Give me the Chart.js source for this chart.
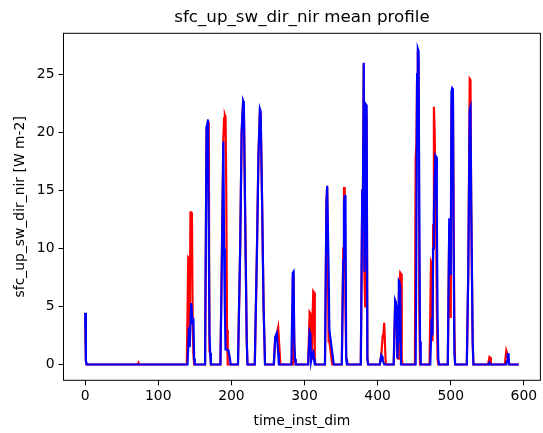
<!DOCTYPE html>
<html>
<head>
<meta charset="utf-8">
<script src="https://cdn.jsdelivr.net/npm/chart.js@4/dist/chart.umd.min.js"></script>
<style>
  body { margin: 0; background: #fff; }
  #wrap { width: 543px; height: 433px; }
</style>
</head>
<body>
<div id="wrap"><canvas id="profileChart" width="543" height="433"></canvas></div>
<script>
// Tick labels
const xTicks = [0, 100, 200, 300, 400, 500, 600];
const yTicks = [0, 5, 10, 15, 20, 25];

// Series values as [time_inst_dim, value]; zero stretches are given by their ends
const redSeries = [
    [0, 4.4], [1, 0.3], [2, 0],
    [72, 0], [73, 0.15], [74, 0],
    [139, 0], [141, 9.2], [142, 9.1], [143, 2.5], [144, 13.1], [145, 13.1], [146, 13.0], [147, 4.0], [148, 1.0], [149, 0],
    [164, 0], [166, 20.3], [167, 20.5], [168, 20.9], [169, 20.8], [170, 1.1], [171, 1.0], [172, 0],
    [185, 0], [187, 10.0], [189, 19.5], [190, 21.2], [191, 21.5], [192, 21.3], [193, 15.0], [194, 3.0], [195, 0],
    [209, 0], [212, 10.0], [214, 20.0], [216, 22.6], [217, 22.4], [219, 12.0], [221, 2.0], [222, 0],
    [232, 0], [235, 10.0], [237, 18.0], [239, 21.8], [240, 21.6], [242, 14.0], [244, 5.0], [246, 0],
    [258, 0], [260, 2.3], [262, 2.6], [264, 3.2], [265, 3.2], [267, 0],
    [283, 0], [284, 7.5], [285, 7.6], [286, 1.5], [287, 0.4], [288, 0],
    [305, 0], [307, 4.5], [308, 4.4], [309, 0.5], [310, 1.0], [311, 4.0], [312, 6.3], [313, 6.2], [314, 0.5], [315, 0],
    [328, 0], [330, 14.0], [331, 15.3], [332, 15.3], [333, 2.0], [334, 2.0], [336, 1.0], [338, 0],
    [351, 0], [353, 10.0], [354, 15.2], [355, 15.2], [356, 5.0], [357, 0.5], [358, 0.4], [359, 0],
    [377, 0], [379, 15.0], [380, 15.3], [381, 25.8], [382, 7.5], [383, 5.0], [384, 22.0], [385, 21.0], [386, 0.5], [387, 0],
    [403, 0], [405, 0.8], [407, 2.5], [408, 2.6], [409, 3.6], [410, 3.6], [411, 0.2], [412, 0],
    [422, 0], [424, 5.3], [425, 5.1], [426, 4.5], [427, 1.0], [428, 0.5], [429, 6.0], [430, 7.0], [431, 7.9], [432, 7.8], [433, 0.5], [434, 0],
    [451, 0], [452, 17.7], [453, 19.0], [454, 25.0], [455, 27.0], [456, 26.0], [457, 5.0], [458, 0],
    [471, 0], [473, 8.8], [474, 8.6], [475, 2.0], [476, 12.0], [477, 22.2], [478, 20.0], [479, 16.0], [480, 12.0], [481, 5.0], [482, 0.5], [483, 0],
    [496, 0], [498, 12.0], [499, 11.5], [500, 4.0], [501, 22.0], [502, 23.5], [503, 23.6], [504, 12.0], [505, 3.0], [506, 0],
    [522, 0], [524, 8.0], [526, 24.6], [527, 24.5], [528, 14.0], [530, 2.0], [531, 0],
    [551, 0], [553, 0.65], [554, 0.6], [555, 0],
    [574, 0], [576, 1.2], [577, 1.0], [579, 0.3], [580, 0],
    [593, 0]
];

const blueSeries = [
    [0, 4.45], [1, 0.3], [2, 0],
    [140, 0], [142, 3.2], [143, 1.5], [145, 5.3], [146, 5.3], [147, 3.5], [148, 4.0], [149, 0.5], [150, 0],
    [164, 0], [166, 20.5], [167, 20.6], [168, 21.1], [169, 21.1], [170, 2.6], [171, 1.0], [172, 0],
    [185, 0], [187, 9.0], [189, 19.2], [190, 10.0], [191, 5.0], [192, 1.3], [193, 1.3], [196, 1.2], [198, 0.5], [199, 0],
    [209, 0], [212, 10.0], [214, 20.0], [216, 22.7], [217, 22.5], [219, 12.0], [221, 2.0], [222, 0],
    [232, 0], [235, 10.0], [237, 18.0], [239, 22.0], [240, 21.8], [242, 14.0], [244, 5.0], [246, 0],
    [258, 0], [260, 2.4], [261, 2.4], [262, 2.7], [264, 1.0], [265, 0],
    [282, 0], [284, 7.9], [285, 8.0], [286, 2.0], [287, 0.5], [288, 0],
    [305, 0], [307, 2.8], [308, 2.6], [309, 0.3], [311, 1.0], [312, 1.1], [313, 0.5], [314, 0],
    [328, 0], [330, 14.0], [331, 15.4], [332, 15.4], [333, 8.0], [334, 3.0], [336, 2.0], [338, 1.0], [340, 0],
    [351, 0], [353, 9.0], [354, 14.0], [355, 14.5], [356, 14.5], [357, 0.5], [358, 0],
    [377, 0], [379, 15.0], [380, 15.4], [381, 26.0], [382, 8.0], [383, 12.0], [384, 22.4], [385, 22.3], [386, 0.5], [387, 0],
    [403, 0], [405, 0.8], [406, 0.7], [407, 0.3], [408, 0.2], [409, 0],
    [422, 0], [424, 5.5], [425, 5.3], [426, 5.0], [427, 0.5], [428, 2.0], [429, 7.2], [430, 7.1], [431, 6.5], [432, 0],
    [452, 0], [453, 10.0], [454, 25.0], [455, 27.2], [456, 27.0], [457, 14.0], [458, 2.0], [459, 0],
    [472, 0], [474, 4.0], [475, 2.5], [476, 10.0], [477, 13.0], [478, 16.0], [479, 18.0], [480, 17.9], [481, 13.0], [482, 4.0], [483, 0.5], [484, 0],
    [496, 0], [498, 12.5], [499, 12.6], [500, 7.7], [501, 23.5], [502, 23.8], [503, 23.7], [504, 10.0], [505, 1.0], [506, 0],
    [522, 0], [524, 8.0], [526, 22.0], [527, 22.2], [528, 14.0], [530, 2.0], [531, 0],
    [552, 0], [553, 0.15], [554, 0],
    [576, 0], [577, 0.3], [578, 0.9], [579, 0.9], [580, 0],
    [593, 0]
];

const titleText = 'sfc_up_sw_dir_nir mean profile';
const xLabel = 'time_inst_dim';
const yLabel = 'sfc_up_sw_dir_nir [W m-2]';

Chart.defaults.font.family = '"DejaVu Sans", sans-serif';
Chart.defaults.color = '#000';

// matplotlib-like frame and title
const framePlugin = {
    id: 'frame',
    afterDraw(chart) {
        const { ctx, chartArea: a } = chart;
        ctx.save();
        ctx.strokeStyle = '#000';
        ctx.lineWidth = 1;
        ctx.strokeRect(a.left, a.top, a.right - a.left, a.bottom - a.top);
        ctx.fillStyle = '#000';
        ctx.font = '16.7px "DejaVu Sans"';
        ctx.textAlign = 'center';
        ctx.textBaseline = 'middle';
        ctx.fillText(titleText, (a.left + a.right) / 2, 18);
        ctx.restore();
    }
};

function toPoints(series) {
    return series.map(p => ({ x: p[0], y: p[1] }));
}

function fixedTicks(values) {
    return scale => { scale.ticks = values.map(v => ({ value: v })); };
}

const ctx = document.getElementById('profileChart').getContext('2d');
new Chart(ctx, {
    type: 'line',
    data: {
        datasets: [
            {
                label: 'red',
                data: toPoints(redSeries),
                borderColor: '#ff0000',
                borderWidth: 2.2,
                pointRadius: 0,
                tension: 0,
                order: 1
            },
            {
                label: 'blue',
                data: toPoints(blueSeries),
                borderColor: '#0000ff',
                borderWidth: 2.2,
                pointRadius: 0,
                tension: 0,
                order: 0
            }
        ]
    },
    options: {
        responsive: false,
        animation: false,
        layout: { padding: { left: 0, right: 2.6, top: 33.3, bottom: 0 } },
        plugins: {
            legend: { display: false },
            tooltip: { enabled: false }
        },
        scales: {
            x: {
                type: 'linear',
                min: -29.65,
                max: 622.65,
                afterBuildTicks: fixedTicks(xTicks),
                afterFit: scale => { scale.height = 52.7; },
                border: { display: false },
                grid: { drawOnChartArea: false, drawTicks: true, tickLength: 5, tickColor: '#000' },
                ticks: { font: { size: 13.9 }, padding: 3, maxRotation: 0 },
                title: { display: true, text: xLabel, font: { size: 13.9 }, padding: { top: 0, bottom: 3.7 } }
            },
            y: {
                type: 'linear',
                min: -1.36,
                max: 28.53,
                afterBuildTicks: fixedTicks(yTicks),
                afterFit: scale => { scale.width = 63.5; },
                border: { display: false },
                grid: { drawOnChartArea: false, drawTicks: true, tickLength: 5, tickColor: '#000' },
                ticks: { font: { size: 13.9 }, padding: 4 },
                title: { display: true, text: yLabel, font: { size: 13.9 }, padding: { top: 11.7, bottom: 0 } }
            }
        }
    },
    plugins: [framePlugin]
});
</script>
</body>
</html>
